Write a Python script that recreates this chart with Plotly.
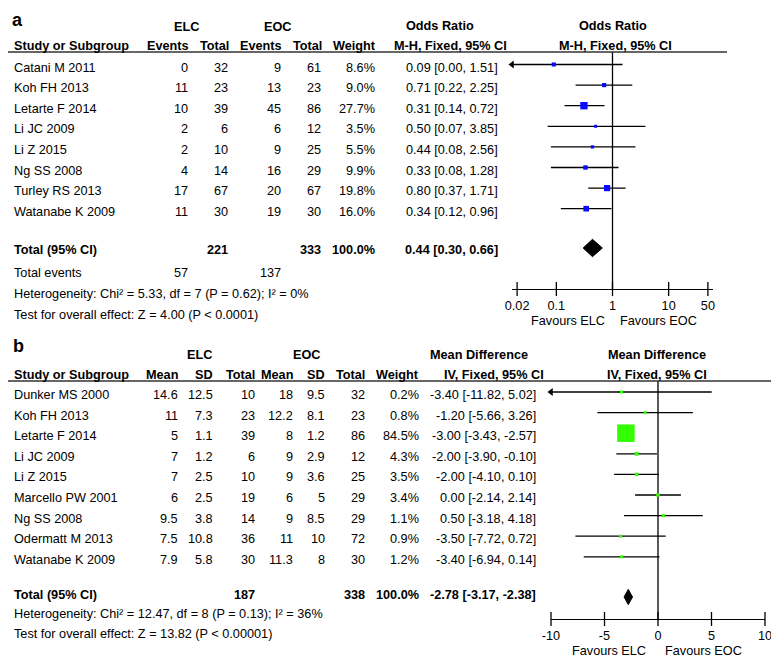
import plotly.graph_objects as go

# ---------------- data: panel a (odds ratio) ----------------
studies_a = ["Catani M 2011", "Koh FH 2013", "Letarte F 2014", "Li JC 2009",
             "Li Z 2015", "Ng SS 2008", "Turley RS 2013", "Watanabe K 2009"]
elc_events = [0, 11, 10, 2, 2, 4, 17, 11]
elc_total_a = [32, 23, 39, 6, 10, 14, 67, 30]
eoc_events = [9, 13, 45, 6, 9, 16, 20, 19]
eoc_total_a = [61, 23, 86, 12, 25, 29, 67, 30]
weight_a = [8.6, 9.0, 27.7, 3.5, 5.5, 9.9, 19.8, 16.0]
or_est = [0.09, 0.71, 0.31, 0.50, 0.44, 0.33, 0.80, 0.34]
or_lo = [0.00, 0.22, 0.14, 0.07, 0.08, 0.08, 0.37, 0.12]
or_hi = [1.51, 2.25, 0.72, 3.85, 2.56, 1.28, 1.71, 0.96]
total_a = {"elc_n": 221, "eoc_n": 333, "weight": 100.0, "est": 0.44, "lo": 0.30, "hi": 0.66,
           "elc_ev": 57, "eoc_ev": 137}
het_a = "Heterogeneity: Chi² = 5.33, df = 7 (P = 0.62); I² = 0%"
test_a = "Test for overall effect: Z = 4.00 (P < 0.0001)"
ticks_a = [0.02, 0.1, 1, 10, 50]
ticklabels_a = ["0.02", "0.1", "1", "10", "50"]

# ---------------- data: panel b (mean difference) ----------------
studies_b = ["Dunker MS 2000", "Koh FH 2013", "Letarte F 2014", "Li JC 2009", "Li Z 2015",
             "Marcello PW 2001", "Ng SS 2008", "Odermatt M 2013", "Watanabe K 2009"]
elc_mean = [14.6, 11, 5, 7, 7, 6, 9.5, 7.5, 7.9]
elc_sd = [12.5, 7.3, 1.1, 1.2, 2.5, 2.5, 3.8, 10.8, 5.8]
elc_n = [10, 23, 39, 6, 10, 19, 14, 36, 30]
eoc_mean = [18, 12.2, 8, 9, 9, 6, 9, 11, 11.3]
eoc_sd = [9.5, 8.1, 1.2, 2.9, 3.6, 5, 8.5, 10, 8]
eoc_n = [32, 23, 86, 12, 25, 29, 29, 72, 30]
weight_b = [0.2, 0.8, 84.5, 4.3, 3.5, 3.4, 1.1, 0.9, 1.2]
md_est = [-3.40, -1.20, -3.00, -2.00, -2.00, 0.00, 0.50, -3.50, -3.40]
md_lo = [-11.82, -5.66, -3.43, -3.90, -4.10, -2.14, -3.18, -7.72, -6.94]
md_hi = [5.02, 3.26, -2.57, -0.10, 0.10, 2.14, 4.18, 0.72, 0.14]
total_b = {"elc_n": 187, "eoc_n": 338, "weight": 100.0, "est": -2.78, "lo": -3.17, "hi": -2.38}
het_b = "Heterogeneity: Chi² = 12.47, df = 8 (P = 0.13); I² = 36%"
test_b = "Test for overall effect: Z = 13.82 (P < 0.00001)"
ticks_b = [-10, -5, 0, 5, 10]
ticklabels_b = ["-10", "-5", "0", "5", "10"]

# ---------------- layout helpers ----------------
W, H = 779, 662
OFF = 8  # page body margin of the html page
FONT = "Liberation Sans, Arial, sans-serif"
FS = 12.7
BLUE = "#0a0aff"
GREEN = "#33ff00"


def px(x):
    return (x - OFF) / W


def py(y):
    return 1 - (y - OFF) / H


annotations = []


def txt(x, y, s, anchor="right", bold=False, size=FS):
    if bold:
        s = "<b>" + s + "</b>"
    annotations.append(dict(x=px(x), y=py(y), xref="paper", yref="paper", text=s,
                            showarrow=False, xanchor=anchor, yanchor="middle",
                            font=dict(family=FONT, size=size, color="black")))


def fmt(v):
    return f"{v:g}"


fig = go.Figure()

# ================= Panel a =================
row0_a, step = 64.5, 20.6
top_a_px, axis_a_px = 52, 289
ya_top = (top_a_px - row0_a) / step
ya_bot = (axis_a_px - row0_a) / step
xa_range = [-1.79, 1.79]
xa_min = 10 ** xa_range[0]

txt(10, 19.5, "a", anchor="left", bold=True, size=18)
txt(186, 27, "ELC", anchor="center", bold=True)
txt(278, 27, "EOC", anchor="center", bold=True)
txt(440, 26, "Odds Ratio", anchor="center", bold=True)
txt(613, 26, "Odds Ratio", anchor="center", bold=True)
cols_a = [190, 230, 283, 323, 377]
txt(12, 46, "Study or Subgroup", anchor="left", bold=True)
for x, h in zip(cols_a, ["Events", "Total", "Events", "Total", "Weight"]):
    txt(x + 1, 46, h, bold=True)
txt(450, 46, "M-H, Fixed, 95% CI", anchor="center", bold=True)
txt(615, 46, "M-H, Fixed, 95% CI", anchor="center", bold=True)

for k, s in enumerate(studies_a):
    y = row0_a + step * k + 3
    txt(12, y, s, anchor="left")
    vals = [elc_events[k], elc_total_a[k], eoc_events[k], eoc_total_a[k]]
    for x, v in zip(cols_a[:4], vals):
        txt(x, y, str(v))
    txt(cols_a[4], y, f"{weight_a[k]:.1f}%")
    txt(500, y, f"{or_est[k]:.2f} [{or_lo[k]:.2f}, {or_hi[k]:.2f}]")

ytot_a = 250
txt(12, ytot_a, "Total (95% CI)", anchor="left", bold=True)
txt(cols_a[1], ytot_a, str(total_a["elc_n"]), bold=True)
txt(cols_a[3], ytot_a, str(total_a["eoc_n"]), bold=True)
txt(cols_a[4], ytot_a, f"{total_a['weight']:.1f}%", bold=True)
txt(500, ytot_a, f"{total_a['est']:.2f} [{total_a['lo']:.2f}, {total_a['hi']:.2f}]", bold=True)
txt(12, 273, "Total events", anchor="left")
txt(cols_a[0], 273, str(total_a["elc_ev"]))
txt(cols_a[2], 273, str(total_a["eoc_ev"]))
txt(12, 294, het_a, anchor="left")
txt(12, 315, test_a, anchor="left")
txt(607, 321, "Favours ELC", anchor="right")
txt(618, 321, "Favours EOC", anchor="left")

rows_a = list(range(len(studies_a)))
cx, cy = [], []
for k in rows_a:
    cx += [max(or_lo[k], xa_min), min(or_hi[k], 10 ** xa_range[1]), None]
    cy += [k, k, None]
fig.add_trace(go.Scatter(x=cx, y=cy, mode="lines", line=dict(color="black", width=1.3),
                         xaxis="x", yaxis="y", hoverinfo="skip"))
arr = [k for k in rows_a if or_lo[k] < xa_min]
fig.add_trace(go.Scatter(x=[xa_min] * len(arr), y=arr, mode="markers", cliponaxis=False,
                         marker=dict(symbol="triangle-left", size=7, color="black"),
                         xaxis="x", yaxis="y"))
fig.add_trace(go.Scatter(x=[1, 1], y=[ya_top, ya_bot], mode="lines",
                         line=dict(color="black", width=1.3), xaxis="x", yaxis="y"))
fig.add_trace(go.Scatter(x=or_est, y=rows_a, mode="markers",
                         marker=dict(symbol="square", color=BLUE, opacity=1,
                                     size=[max(3, 1.4 * w ** 0.5) for w in weight_a],
                                     line=dict(width=0)),
                         xaxis="x", yaxis="y"))
kd_a = (248 - row0_a) / step
hd_a = 0.42
fig.add_trace(go.Scatter(x=[total_a["lo"], total_a["est"], total_a["hi"], total_a["est"], total_a["lo"]],
                         y=[kd_a, kd_a - hd_a, kd_a, kd_a + hd_a, kd_a], mode="lines",
                         fill="toself", fillcolor="black", line=dict(color="black", width=1),
                         xaxis="x", yaxis="y"))
fig.add_trace(go.Scatter(x=ticks_a, y=[ya_bot] * len(ticks_a), mode="markers", cliponaxis=False,
                         marker=dict(symbol="line-ns", size=10, line=dict(color="black", width=1.3)),
                         xaxis="x", yaxis="y"))

# ================= Panel b =================
row0_b = 392
top_b_px, axis_b_px = 381, 619
yb_top = (top_b_px - row0_b) / step
yb_bot = (axis_b_px - row0_b) / step
xb_range = [-10, 10]

txt(11, 346, "b", anchor="left", bold=True, size=18)
txt(199, 355, "ELC", anchor="center", bold=True)
txt(307, 355, "EOC", anchor="center", bold=True)
txt(479, 355, "Mean Difference", anchor="center", bold=True)
txt(657, 355, "Mean Difference", anchor="center", bold=True)
cols_b = [180, 215, 257, 295, 327, 367, 421]
txt(12, 375, "Study or Subgroup", anchor="left", bold=True)
for x, h in zip(cols_b, ["Mean", "SD", "Total", "Mean", "SD", "Total", "Weight"]):
    txt(x, 375, h, bold=True)
txt(494, 375, "IV, Fixed, 95% CI", anchor="center", bold=True)
txt(657, 375, "IV, Fixed, 95% CI", anchor="center", bold=True)

for k, s in enumerate(studies_b):
    y = row0_b + step * k + 3
    txt(12, y, s, anchor="left")
    vals = [fmt(elc_mean[k]), fmt(elc_sd[k]), str(elc_n[k]),
            fmt(eoc_mean[k]), fmt(eoc_sd[k]), str(eoc_n[k]), f"{weight_b[k]:.1f}%"]
    for x, v in zip(cols_b, vals):
        txt(x, y, v)
    txt(538, y, f"{md_est[k]:.2f} [{md_lo[k]:.2f}, {md_hi[k]:.2f}]")

ytot_b = 595
txt(12, ytot_b, "Total (95% CI)", anchor="left", bold=True)
txt(cols_b[2], ytot_b, str(total_b["elc_n"]), bold=True)
txt(cols_b[5], ytot_b, str(total_b["eoc_n"]), bold=True)
txt(cols_b[6], ytot_b, f"{total_b['weight']:.1f}%", bold=True)
txt(538, ytot_b, f"{total_b['est']:.2f} [{total_b['lo']:.2f}, {total_b['hi']:.2f}]", bold=True)
txt(12, 614, het_b, anchor="left")
txt(12, 634, test_b, anchor="left")
txt(648, 651, "Favours ELC", anchor="right")
txt(663, 651, "Favours EOC", anchor="left")

rows_b = list(range(len(studies_b)))
cx, cy = [], []
for k in rows_b:
    cx += [max(md_lo[k], xb_range[0]), min(md_hi[k], xb_range[1]), None]
    cy += [k, k, None]
fig.add_trace(go.Scatter(x=cx, y=cy, mode="lines", line=dict(color="black", width=1.3),
                         xaxis="x2", yaxis="y2", hoverinfo="skip"))
arr = [k for k in rows_b if md_lo[k] < xb_range[0]]
fig.add_trace(go.Scatter(x=[xb_range[0]] * len(arr), y=arr, mode="markers", cliponaxis=False,
                         marker=dict(symbol="triangle-left", size=7, color="black"),
                         xaxis="x2", yaxis="y2"))
fig.add_trace(go.Scatter(x=[0, 0], y=[yb_top, yb_bot], mode="lines",
                         line=dict(color="black", width=1.3), xaxis="x2", yaxis="y2"))
fig.add_trace(go.Scatter(x=md_est, y=rows_b, mode="markers",
                         marker=dict(symbol="square", color=GREEN, opacity=1,
                                     size=[max(3, 1.9 * w ** 0.5) for w in weight_b],
                                     line=dict(width=0)),
                         xaxis="x2", yaxis="y2"))
kd_b = (597 - row0_b) / step
hd_b = 0.37
fig.add_trace(go.Scatter(x=[total_b["lo"], total_b["est"], total_b["hi"], total_b["est"], total_b["lo"]],
                         y=[kd_b, kd_b - hd_b, kd_b, kd_b + hd_b, kd_b], mode="lines",
                         fill="toself", fillcolor="black", line=dict(color="black", width=1),
                         xaxis="x2", yaxis="y2"))
fig.add_trace(go.Scatter(x=ticks_b, y=[yb_bot] * len(ticks_b), mode="markers", cliponaxis=False,
                         marker=dict(symbol="line-ns", size=10, line=dict(color="black", width=1.3)),
                         xaxis="x2", yaxis="y2"))

shapes = [
    dict(type="line", xref="paper", yref="paper", x0=0, x1=px(727), y0=py(52), y1=py(52),
         line=dict(color="#333333", width=1.5)),
    dict(type="line", xref="paper", yref="paper", x0=0, x1=px(779), y0=py(381), y1=py(381),
         line=dict(color="#333333", width=1.5)),
]

axis_common = dict(showgrid=False, zeroline=False, showline=True, linecolor="black", linewidth=1.3,
                   ticks="", automargin=False,
                   tickfont=dict(family=FONT, size=FS, color="black"), fixedrange=True)

fig.update_layout(
    width=W, height=H, margin=dict(l=0, r=0, t=0, b=0, pad=0),
    paper_bgcolor="white", plot_bgcolor="white", showlegend=False,
    annotations=annotations, shapes=shapes,
    xaxis=dict(type="log", range=xa_range, domain=[px(512), px(713)], anchor="y",
               tickvals=ticks_a, ticktext=ticklabels_a, ticklabelstandoff=5, **axis_common),
    yaxis=dict(range=[ya_bot, ya_top], domain=[py(axis_a_px), py(top_a_px)], visible=False,
               anchor="x", fixedrange=True),
    xaxis2=dict(range=xb_range, domain=[px(551), px(765)], anchor="y2",
                tickvals=ticks_b, ticktext=ticklabels_b, ticklabelstandoff=5, **axis_common),
    yaxis2=dict(range=[yb_bot, yb_top], domain=[py(axis_b_px), py(top_b_px)], visible=False,
                anchor="x2", fixedrange=True),
)

fig.write_html("out.html")
